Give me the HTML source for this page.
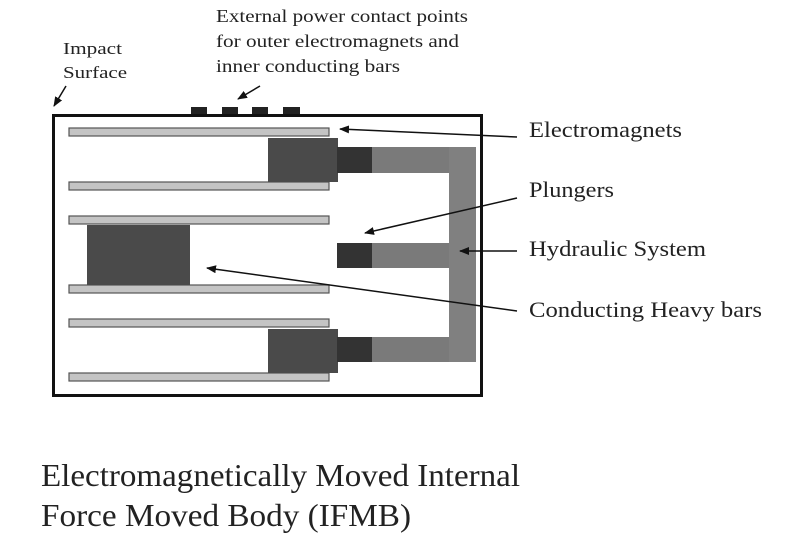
<!DOCTYPE html>
<html><head><meta charset="utf-8"><style>
body{margin:0;background:#fff;}
svg{display:block}
text{font-family:"Liberation Serif",serif;fill:#222}
</style></head><body>
<svg width="801" height="541" viewBox="0 0 801 541" xmlns="http://www.w3.org/2000/svg">
<defs>
<marker id="a" markerWidth="10" markerHeight="8" refX="9" refY="4" orient="auto" markerUnits="userSpaceOnUse"><path d="M0,0 L10,4 L0,8 z" fill="#111"/></marker>
</defs>
<text x="216" y="22" font-size="18" textLength="252" lengthAdjust="spacingAndGlyphs">External power contact points</text>
<text x="216" y="47" font-size="18" textLength="243" lengthAdjust="spacingAndGlyphs">for outer electromagnets and</text>
<text x="216" y="72" font-size="18" textLength="184" lengthAdjust="spacingAndGlyphs">inner conducting bars</text>
<text x="63" y="54" font-size="17" textLength="59" lengthAdjust="spacingAndGlyphs">Impact</text>
<text x="63" y="78" font-size="17" textLength="64" lengthAdjust="spacingAndGlyphs">Surface</text>
<line x1="66" y1="86" x2="54" y2="106" stroke="#111" stroke-width="1.5" marker-end="url(#a)"/>
<line x1="260" y1="86" x2="238" y2="99" stroke="#111" stroke-width="1.5" marker-end="url(#a)"/>
<g fill="#222"><rect x="191" y="107" width="16" height="9"/><rect x="222" y="107" width="16" height="9"/><rect x="252" y="107" width="16" height="9"/><rect x="283" y="107" width="17" height="9"/></g>
<rect x="53.5" y="115.5" width="428" height="280" fill="none" stroke="#111" stroke-width="3"/>
<g fill="#c4c4c4" stroke="#555" stroke-width="1.2">
<rect x="69" y="128" width="260" height="8"/><rect x="69" y="182" width="260" height="8"/>
<rect x="69" y="216" width="260" height="8"/><rect x="69" y="285" width="260" height="8"/>
<rect x="69" y="319" width="260" height="8"/><rect x="69" y="373" width="260" height="8"/>
</g>
<g fill="#4a4a4a">
<rect x="268" y="138" width="70" height="44"/><rect x="268" y="329" width="70" height="44"/>
<rect x="87" y="225" width="103" height="60"/>
</g>
<g fill="#333"><rect x="337" y="147" width="35" height="26"/><rect x="337" y="243" width="35" height="25"/><rect x="337" y="337" width="35" height="25"/></g>
<g fill="#7a7a7a"><rect x="372" y="147" width="77" height="26"/><rect x="372" y="243" width="77" height="25"/><rect x="372" y="337" width="77" height="25"/><rect x="449" y="147" width="27" height="215" fill="#808080"/></g>
<g stroke="#111" stroke-width="1.5" marker-end="url(#a)">
<line x1="517" y1="137" x2="340" y2="129"/>
<line x1="517" y1="198" x2="365" y2="233"/>
<line x1="517" y1="251" x2="460" y2="251"/>
<line x1="517" y1="311" x2="207" y2="268"/>
</g>
<g font-size="22">
<text x="529" y="137" textLength="153" lengthAdjust="spacingAndGlyphs">Electromagnets</text>
<text x="529" y="197" textLength="85" lengthAdjust="spacingAndGlyphs">Plungers</text>
<text x="529" y="256" textLength="177" lengthAdjust="spacingAndGlyphs">Hydraulic System</text>
<text x="529" y="317" textLength="233" lengthAdjust="spacingAndGlyphs">Conducting Heavy bars</text>
</g>
<text x="41" y="486" font-size="32" textLength="479" lengthAdjust="spacingAndGlyphs">Electromagnetically  Moved Internal</text>
<text x="41" y="526" font-size="32" textLength="370" lengthAdjust="spacingAndGlyphs">Force Moved Body (IFMB)</text>
</svg>
</body></html>
